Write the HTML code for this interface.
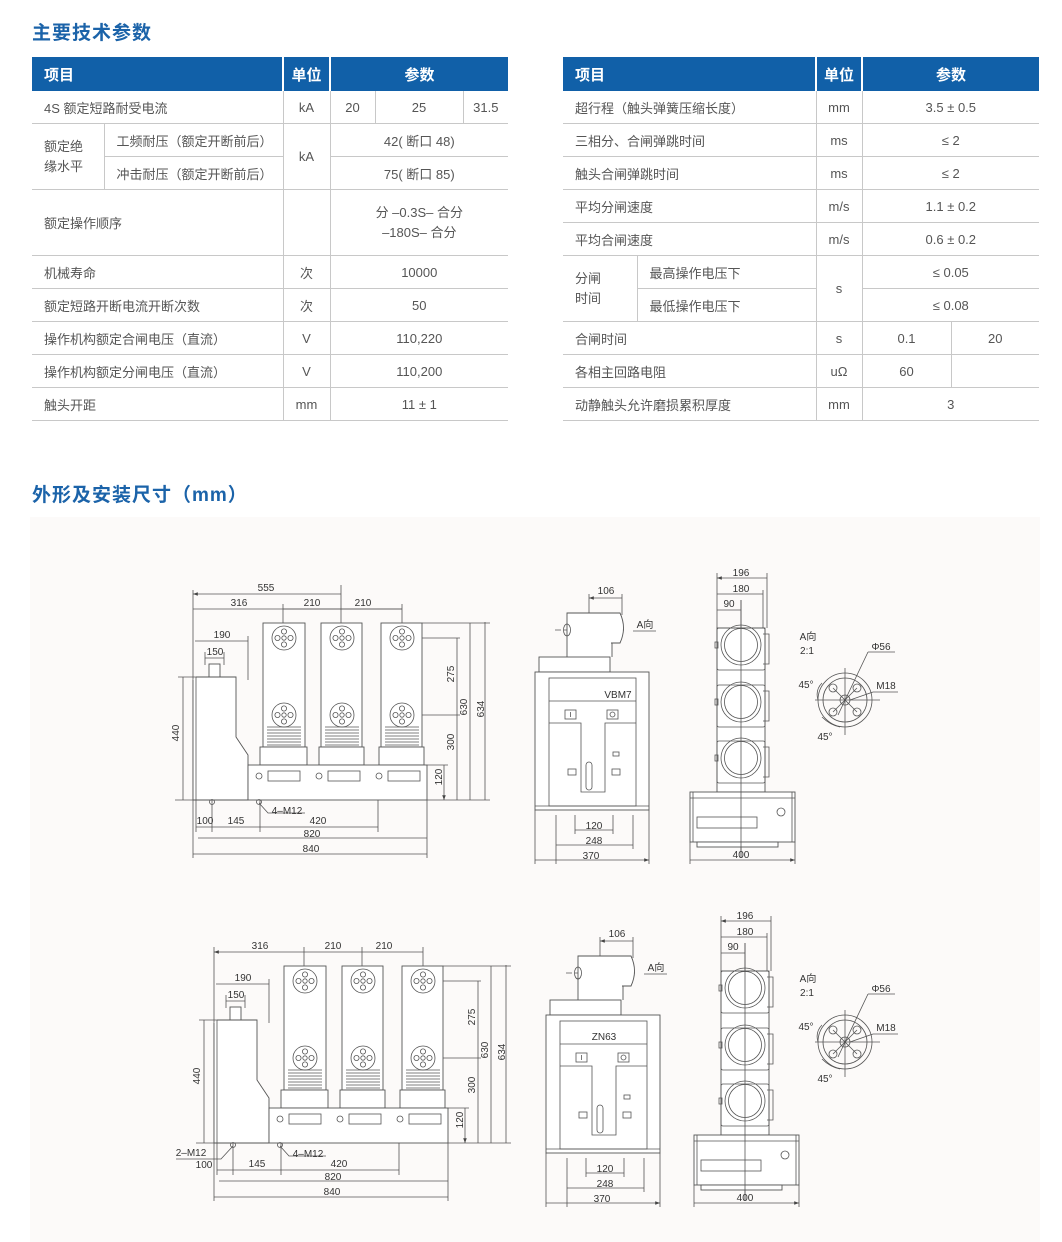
<!DOCTYPE html>
<html><head><meta charset="utf-8">
<style>
body{margin:0;background:#fff;width:1062px;height:1242px;position:relative;overflow:hidden;font-family:"Liberation Sans","Noto Sans CJK SC",sans-serif;}
.h{position:absolute;color:#1b63a9;font-size:19px;font-weight:bold;letter-spacing:1px;}
table{position:absolute;border-collapse:collapse;font-size:13px;color:#555;table-layout:fixed;}
td,th{padding:0;height:32px;border-bottom:1.5px solid #c8c8c8;border-left:1.5px solid #c8c8c8;}
th{background:#1160a8;color:#fff;font-size:15px;height:34px;border-left:2px solid #fff;border-bottom:none}
th:first-child,td.f{border-left:none}
td{text-align:center}
td.l{text-align:left;padding-left:12px}
th.l{text-align:left;padding-left:12px}
svg{position:absolute;left:0;top:0}
svg text{font-family:"Liberation Sans","Noto Sans CJK SC",sans-serif;font-size:10px;fill:#333;text-anchor:middle}
.s{stroke:#555;stroke-width:.8;fill:none}
.w{stroke:#555;stroke-width:.9;fill:#fff}
</style></head><body>
<div class="h" style="left:32px;top:18px">主要技术参数</div>
<div class="h" style="left:32px;top:480px">外形及安装尺寸（mm）</div>

<table style="left:32px;top:57px;width:476px">
<colgroup><col style="width:72px"><col style="width:179px"><col style="width:47px"><col style="width:45px"><col style="width:88px"><col style="width:45px"></colgroup>
<tr><th class="l" colspan="2">项目</th><th>单位</th><th colspan="3">参数</th></tr>
<tr><td class="l f" colspan="2">4S 额定短路耐受电流</td><td>kA</td><td>20</td><td>25</td><td>31.5</td></tr>
<tr><td class="l f" rowspan="2" style="line-height:20px">额定绝<br>缘水平</td><td class="l">工频耐压（额定开断前后）</td><td rowspan="2">kA</td><td colspan="3">42( 断口 48)</td></tr>
<tr><td class="l">冲击耐压（额定开断前后）</td><td colspan="3">75( 断口 85)</td></tr>
<tr><td class="l f" colspan="2" style="height:65px">额定操作顺序</td><td></td><td colspan="3" style="line-height:20px">分 –0.3S– 合分<br>–180S– 合分</td></tr>
<tr><td class="l f" colspan="2">机械寿命</td><td>次</td><td colspan="3">10000</td></tr>
<tr><td class="l f" colspan="2">额定短路开断电流开断次数</td><td>次</td><td colspan="3">50</td></tr>
<tr><td class="l f" colspan="2">操作机构额定合闸电压（直流）</td><td>V</td><td colspan="3">110,220</td></tr>
<tr><td class="l f" colspan="2">操作机构额定分闸电压（直流）</td><td>V</td><td colspan="3">110,200</td></tr>
<tr><td class="l f" colspan="2">触头开距</td><td>mm</td><td colspan="3">11 ± 1</td></tr>
</table>

<table style="left:563px;top:57px;width:476px">
<colgroup><col style="width:74px"><col style="width:179px"><col style="width:46px"><col style="width:89px"><col style="width:88px"></colgroup>
<tr><th class="l" colspan="2">项目</th><th>单位</th><th colspan="2">参数</th></tr>
<tr><td class="l f" colspan="2">超行程（触头弹簧压缩长度）</td><td>mm</td><td colspan="2">3.5 ± 0.5</td></tr>
<tr><td class="l f" colspan="2">三相分、合闸弹跳时间</td><td>ms</td><td colspan="2">≤ 2</td></tr>
<tr><td class="l f" colspan="2">触头合闸弹跳时间</td><td>ms</td><td colspan="2">≤ 2</td></tr>
<tr><td class="l f" colspan="2">平均分闸速度</td><td>m/s</td><td colspan="2">1.1 ± 0.2</td></tr>
<tr><td class="l f" colspan="2">平均合闸速度</td><td>m/s</td><td colspan="2">0.6 ± 0.2</td></tr>
<tr><td class="l f" rowspan="2" style="line-height:20px">分闸<br>时间</td><td class="l">最高操作电压下</td><td rowspan="2">s</td><td colspan="2">≤ 0.05</td></tr>
<tr><td class="l">最低操作电压下</td><td colspan="2">≤ 0.08</td></tr>
<tr><td class="l f" colspan="2">合闸时间</td><td>s</td><td>0.1</td><td>20</td></tr>
<tr><td class="l f" colspan="2">各相主回路电阻</td><td>uΩ</td><td>60</td><td></td></tr>
<tr><td class="l f" colspan="2">动静触头允许磨损累积厚度</td><td>mm</td><td colspan="2">3</td></tr>
</table>

<svg width="1062" height="1242" viewBox="0 0 1062 1242" style="z-index:-1">
<rect x="30" y="517" width="1010" height="725" fill="#fcfaf9"/>
</svg>

<svg width="1062" height="1242" viewBox="0 0 1062 1242">
<defs>
<marker id="a" viewBox="0 0 8 6" refX="8" refY="3" markerWidth="6" markerHeight="4.5" orient="auto-start-reverse"><path d="M0 0L8 3L0 6z" fill="#444"/></marker>
<g id="fl"><circle r="12" class="s"/><circle cx="0" cy="-6.5" r="2.6" class="s"/><circle cx="-6.5" cy="0" r="2.6" class="s"/><circle cx="6.5" cy="0" r="2.6" class="s"/><circle cx="0" cy="6.5" r="2.6" class="s"/><circle r="2.2" class="s"/></g>
<g id="fins" class="s"><path d="M4 0h34M4 3h34M4 6h34M4 9h34M4 12h34M4 15h34M4 18h34"/></g>
<g id="mod"><rect x="0" y="0" width="48" height="42" rx="2" class="s"/><path d="M46 6h6v30h-6" class="s"/><circle cx="24" cy="17" r="20" class="s"/><circle cx="24" cy="17" r="16.5" class="s"/><rect x="-2" y="14" width="3" height="6" class="s"/></g>
</defs>

<!-- ===== TOP SET ===== -->
<g id="L1">
<g class="s">
<path d="M193 590V858M341 585V640M283 604V640M402 604V640M248 636V680M224 652V665M205 652V665M196 800V832M212 800V832M260 800V832M378 800V832M427 800V858"/>
<path d="M193 594H341M193 609H402M195 641H248M205 658H224M183 677V800M196 827H378M198 838H427M193 854H427M457 638V800M470 623V800M485 622V800M444 765V800" marker-start="url(#a)" marker-end="url(#a)"/>
<path d="M283 609H341M341 609H402" />
<path d="M178 677H196M427 800H490M405 638H460M405 715H460M422 623H490M427 765H448M175 800H196"/>
</g>
<rect x="209" y="664" width="11" height="13" class="w"/>
<path d="M193 680V800H248V755L236 737V677H196" class="w"/>
<path d="M196 677V800" class="s"/>
<g>
<rect x="263" y="623" width="42" height="124" class="w"/><rect x="260" y="747" width="47" height="18" class="w"/>
<rect x="321" y="623" width="41" height="124" class="w"/><rect x="319" y="747" width="45" height="18" class="w"/>
<rect x="381" y="623" width="41" height="124" class="w"/><rect x="379" y="747" width="45" height="18" class="w"/>
<use href="#fl" x="284" y="638"/><use href="#fl" x="342" y="638"/><use href="#fl" x="402" y="638"/>
<use href="#fl" x="284" y="715"/><use href="#fl" x="342" y="715"/><use href="#fl" x="402" y="715"/>
<use href="#fins" x="263" y="727"/><use href="#fins" x="321" y="727"/><use href="#fins" x="381" y="727"/>
<rect x="248" y="765" width="179" height="35" class="w"/>
<circle cx="259" cy="776" r="3" class="s"/><rect x="268" y="771" width="32" height="10" class="s"/>
<circle cx="319" cy="776" r="3" class="s"/><rect x="328" y="771" width="32" height="10" class="s"/>
<circle cx="379" cy="776" r="3" class="s"/><rect x="388" y="771" width="32" height="10" class="s"/>
<circle cx="212" cy="802" r="2.5" class="s"/><circle cx="259" cy="802" r="2.5" class="s"/>
<path d="M259 803L268 813H305" class="s"/>
</g>
<text x="266" y="591">555</text><text x="239" y="606">316</text><text x="312" y="606">210</text><text x="363" y="606">210</text>
<text x="222" y="638">190</text><text x="215" y="655">150</text>
<text x="186" y="740" transform="rotate(-90 179 740)">440</text>
<text x="454" y="680" transform="rotate(-90 451 677)">275</text>
<text x="454" y="748" transform="rotate(-90 451 745)">300</text>
<text x="467" y="713" transform="rotate(-90 464 710)">630</text>
<text x="484" y="715" transform="rotate(-90 481 712)">634</text>
<text x="442" y="783" transform="rotate(-90 439 780)">120</text>
<text x="287" y="814">4–M12</text>
<text x="205" y="824">100</text><text x="236" y="824">145</text><text x="318" y="824">420</text>
<text x="312" y="837">820</text><text x="311" y="852">840</text>
</g>

<g id="M1">
<g class="s">
<path d="M589 594V613M622 594V615M556 815V864M575 815V834M613 815V834M633 815V849M535 810V864M649 810V864"/>
<path d="M589 598H622M575 830H613M556 845H633M535 860H649" marker-start="url(#a)" marker-end="url(#a)"/>
<path d="M555 630H625" stroke-dasharray="6 3"/>
<path d="M633 631H656"/>
</g>
<path d="M567 657V613H612V657" class="w"/>
<path d="M611 613H620Q627 628 620 643H611" class="w"/>
<ellipse cx="567" cy="630" rx="3.5" ry="6" class="s"/>
<rect x="539" y="657" width="71" height="15" class="w"/>
<rect x="535" y="672" width="114" height="138" class="w"/>
<rect x="549" y="678" width="87" height="128" class="s"/>
<path d="M549 701H636M549 723H581V792H605V723H636" class="s"/>
<rect x="565" y="710" width="11" height="9" class="s"/><path d="M570.5 712V717" class="s"/>
<rect x="607" y="710" width="11" height="9" class="s"/><circle cx="612.5" cy="714.5" r="2.5" class="s"/>
<rect x="586" y="762" width="6" height="28" rx="3" class="s"/>
<rect x="568" y="769" width="8" height="6" class="s"/><rect x="612" y="769" width="8" height="6" class="s"/><rect x="613" y="752" width="6" height="4" class="s"/>
<path d="M535 806H649" class="s"/>
<text x="618" y="698">VBM7</text>
<text x="606" y="594">106</text>
<text x="645" y="628">A向</text>
<text x="594" y="829">120</text><text x="594" y="844">248</text><text x="591" y="859">370</text>
</g>

<g id="R1">
<g class="s">
<path d="M717 573V628M767 573V628M763 590V640M741 600V858M690 842V864M795 842V864"/>
<path d="M717 578H767M717 594H763M717 610H741M690 860H795" marker-start="url(#a)" marker-end="url(#a)"/>
</g>
<rect x="717" y="628" width="48" height="164" class="w"/>
<use href="#mod" x="717" y="628"/><use href="#mod" x="717" y="685"/><use href="#mod" x="717" y="741"/>
<rect x="690" y="792" width="105" height="50" class="w"/>
<path d="M690 798H795M693 792V842M792 792V842" class="s"/>
<rect x="697" y="842" width="81" height="5" class="w"/>
<rect x="697" y="817" width="60" height="11" class="s"/>
<circle cx="781" cy="812" r="4" class="s"/>
<path d="M741 600V858" class="s"/>
<text x="741" y="576">196</text><text x="741" y="592">180</text><text x="729" y="607">90</text><text x="741" y="858">400</text>
</g>

<g id="A1">
<circle cx="845" cy="700" r="27" class="s"/><circle cx="845" cy="700" r="22" class="s"/>
<g class="s">
<path d="M815 700H880M845 668V735M833 688L857 712M857 688L833 712"/>
<circle cx="833" cy="688" r="4"/><circle cx="857" cy="688" r="4"/><circle cx="833" cy="712" r="4"/><circle cx="857" cy="712" r="4"/>
<circle cx="845" cy="700" r="5"/>
<path d="M868 652H895M868 652L838 715M873 692H898M873 692L850 700M822 683Q815 690 818 700M822 717Q830 725 840 727"/>
</g>
<text x="808" y="640">A向</text><text x="807" y="654">2:1</text>
<text x="881" y="650">Φ56</text><text x="886" y="689">M18</text>
<text x="806" y="688">45°</text><text x="825" y="740">45°</text>
</g>

<!-- ===== BOTTOM SET ===== -->
<g transform="translate(21 343)">
<g class="s">
<path d="M193 604V858M341 604V640M283 604V640M402 604V640M248 636V680M224 652V665M205 652V665M196 800V832M212 800V832M260 800V832M378 800V832M427 800V858"/>
<path d="M193 609H402M195 641H248M205 658H224M183 677V800M196 827H378M198 838H427M193 854H427M457 638V800M470 623V800M485 622V800M444 765V800" marker-start="url(#a)" marker-end="url(#a)"/>
<path d="M178 677H196M427 800H490M405 638H460M405 715H460M422 623H490M427 765H448M175 800H196M212 803L200 816H155"/>
</g>
<rect x="209" y="664" width="11" height="13" class="w"/>
<path d="M193 680V800H248V755L236 737V677H196" class="w"/>
<path d="M196 677V800" class="s"/>
<rect x="263" y="623" width="42" height="124" class="w"/><rect x="260" y="747" width="47" height="18" class="w"/>
<rect x="321" y="623" width="41" height="124" class="w"/><rect x="319" y="747" width="45" height="18" class="w"/>
<rect x="381" y="623" width="41" height="124" class="w"/><rect x="379" y="747" width="45" height="18" class="w"/>
<use href="#fl" x="284" y="638"/><use href="#fl" x="342" y="638"/><use href="#fl" x="402" y="638"/>
<use href="#fl" x="284" y="715"/><use href="#fl" x="342" y="715"/><use href="#fl" x="402" y="715"/>
<use href="#fins" x="263" y="727"/><use href="#fins" x="321" y="727"/><use href="#fins" x="381" y="727"/>
<rect x="248" y="765" width="179" height="35" class="w"/>
<circle cx="259" cy="776" r="3" class="s"/><rect x="268" y="771" width="32" height="10" class="s"/>
<circle cx="319" cy="776" r="3" class="s"/><rect x="328" y="771" width="32" height="10" class="s"/>
<circle cx="379" cy="776" r="3" class="s"/><rect x="388" y="771" width="32" height="10" class="s"/>
<circle cx="212" cy="802" r="2.5" class="s"/><circle cx="259" cy="802" r="2.5" class="s"/>
<path d="M259 803L268 813H305" class="s"/>
<text x="239" y="606">316</text><text x="312" y="606">210</text><text x="363" y="606">210</text>
<text x="222" y="638">190</text><text x="215" y="655">150</text>
<text x="186" y="740" transform="rotate(-90 179 740)">440</text>
<text x="454" y="680" transform="rotate(-90 451 677)">275</text>
<text x="454" y="748" transform="rotate(-90 451 745)">300</text>
<text x="467" y="713" transform="rotate(-90 464 710)">630</text>
<text x="484" y="715" transform="rotate(-90 481 712)">634</text>
<text x="442" y="783" transform="rotate(-90 439 780)">120</text>
<text x="287" y="814">4–M12</text><text x="170" y="813">2–M12</text>
<text x="183" y="825">100</text><text x="236" y="824">145</text><text x="318" y="824">420</text>
<text x="312" y="837">820</text><text x="311" y="852">840</text>
</g>

<g transform="translate(11 343)">
<g class="s">
<path d="M589 594V613M622 594V615M556 815V864M575 815V834M613 815V834M633 815V849M535 810V864M649 810V864"/>
<path d="M589 598H622M575 830H613M556 845H633M535 860H649" marker-start="url(#a)" marker-end="url(#a)"/>
<path d="M555 630H625" stroke-dasharray="6 3"/>
<path d="M633 631H656"/>
</g>
<path d="M567 657V613H612V657" class="w"/>
<path d="M611 613H620Q627 628 620 643H611" class="w"/>
<ellipse cx="567" cy="630" rx="3.5" ry="6" class="s"/>
<rect x="539" y="657" width="71" height="15" class="w"/>
<rect x="535" y="672" width="114" height="138" class="w"/>
<rect x="549" y="678" width="87" height="128" class="s"/>
<path d="M549 701H636M549 723H581V792H605V723H636" class="s"/>
<rect x="565" y="710" width="11" height="9" class="s"/><path d="M570.5 712V717" class="s"/>
<rect x="607" y="710" width="11" height="9" class="s"/><circle cx="612.5" cy="714.5" r="2.5" class="s"/>
<rect x="586" y="762" width="6" height="28" rx="3" class="s"/>
<rect x="568" y="769" width="8" height="6" class="s"/><rect x="612" y="769" width="8" height="6" class="s"/><rect x="613" y="752" width="6" height="4" class="s"/>
<path d="M535 806H649" class="s"/>
<text x="593" y="697">ZN63</text>
<text x="606" y="594">106</text>
<text x="645" y="628">A向</text>
<text x="594" y="829">120</text><text x="594" y="844">248</text><text x="591" y="859">370</text>
</g>

<g transform="translate(4 343)">
<g class="s">
<path d="M717 573V628M767 573V628M763 590V640M741 600V858M690 842V864M795 842V864"/>
<path d="M717 578H767M717 594H763M717 610H741M690 860H795" marker-start="url(#a)" marker-end="url(#a)"/>
</g>
<rect x="717" y="628" width="48" height="164" class="w"/>
<use href="#mod" x="717" y="628"/><use href="#mod" x="717" y="685"/><use href="#mod" x="717" y="741"/>
<rect x="690" y="792" width="105" height="50" class="w"/>
<path d="M690 798H795M693 792V842M792 792V842" class="s"/>
<rect x="697" y="842" width="81" height="5" class="w"/>
<rect x="697" y="817" width="60" height="11" class="s"/>
<circle cx="781" cy="812" r="4" class="s"/>
<path d="M741 600V858" class="s"/>
<text x="741" y="576">196</text><text x="741" y="592">180</text><text x="729" y="607">90</text><text x="741" y="858">400</text>
</g>

<g transform="translate(0 342)">
<circle cx="845" cy="700" r="27" class="s"/><circle cx="845" cy="700" r="22" class="s"/>
<g class="s">
<path d="M815 700H880M845 668V735M833 688L857 712M857 688L833 712"/>
<circle cx="833" cy="688" r="4"/><circle cx="857" cy="688" r="4"/><circle cx="833" cy="712" r="4"/><circle cx="857" cy="712" r="4"/>
<circle cx="845" cy="700" r="5"/>
<path d="M868 652H895M868 652L838 715M873 692H898M873 692L850 700M822 683Q815 690 818 700M822 717Q830 725 840 727"/>
</g>
<text x="808" y="640">A向</text><text x="807" y="654">2:1</text>
<text x="881" y="650">Φ56</text><text x="886" y="689">M18</text>
<text x="806" y="688">45°</text><text x="825" y="740">45°</text>
</g>
</svg>
</body></html>
